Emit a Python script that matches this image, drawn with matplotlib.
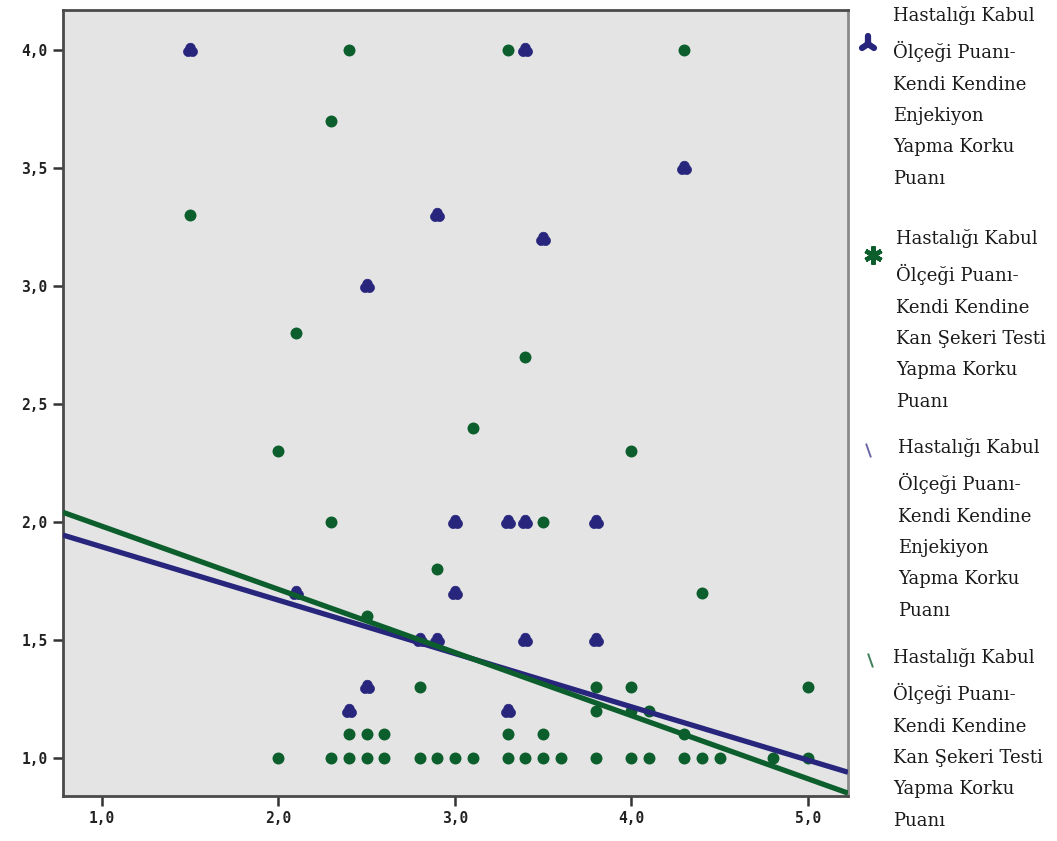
import numpy as np
import matplotlib
matplotlib.use("Agg")
import matplotlib.pyplot as plt
from matplotlib.path import Path
from matplotlib.markers import MarkerStyle
from matplotlib.lines import Line2D
from matplotlib.ticker import FuncFormatter

# Hastalığı Kabul Ölçeği Puanı (x) vs. fear scores (y)
enj_x = [1.5, 3.4, 4.3, 2.9, 3.5, 2.5, 3.0, 3.3, 3.4, 3.8, 3.0, 2.1,
         2.8, 2.9, 3.4, 3.8, 2.5, 2.4, 3.3]
enj_y = [4.0, 4.0, 3.5, 3.3, 3.2, 3.0, 2.0, 2.0, 2.0, 2.0, 1.7, 1.7,
         1.5, 1.5, 1.5, 1.5, 1.3, 1.2, 1.2]

kan_x = [2.4, 3.3, 4.3, 2.3, 1.5, 2.1, 3.4, 3.1, 2.0, 4.0, 2.3, 3.5,
         2.9, 4.4, 2.5, 2.8, 3.8, 4.0, 5.0, 3.8, 4.0, 4.1,
         2.4, 2.5, 2.6, 3.3, 3.5, 4.3,
         2.0, 2.3, 2.4, 2.5, 2.6, 2.8, 2.9, 3.0, 3.1, 3.3, 3.4, 3.5,
         3.6, 3.8, 4.0, 4.1, 4.3, 4.4, 4.5, 4.8, 5.0]
kan_y = [4.0, 4.0, 4.0, 3.7, 3.3, 2.8, 2.7, 2.4, 2.3, 2.3, 2.0, 2.0,
         1.8, 1.7, 1.6, 1.3, 1.3, 1.3, 1.3, 1.2, 1.2, 1.2,
         1.1, 1.1, 1.1, 1.1, 1.1, 1.1,
         1.0, 1.0, 1.0, 1.0, 1.0, 1.0, 1.0, 1.0, 1.0, 1.0, 1.0, 1.0,
         1.0, 1.0, 1.0, 1.0, 1.0, 1.0, 1.0, 1.0, 1.0]

# linear fit lines: intercept, slope
enj_fit = [2.121, -0.226]
kan_fit = [2.250, -0.2676]

x_lim = [0.78, 5.227]
y_lim = [0.839, 4.17]
x_ticks = [1.0, 2.0, 3.0, 4.0, 5.0]
y_ticks = [1.0, 1.5, 2.0, 2.5, 3.0, 3.5, 4.0]

label_enj = "Hastalığı Kabul\nÖlçeği Puanı-\nKendi Kendine\nEnjekiyon\nYapma Korku\nPuanı"
label_kan = "Hastalığı Kabul\nÖlçeği Puanı-\nKendi Kendine\nKan Şekeri Testi\nYapma Korku\nPuanı"

blue = "#27257c"
green = "#0c5e2c"


def trefoil(d=0.32, rad=0.6):
    # outline of three overlapping discs, one lobe pointing up
    t = np.linspace(0, 2 * np.pi, 181)[:-1]
    u = np.column_stack([np.cos(t), np.sin(t)])
    r = np.zeros(len(t))
    for ang in (90, 210, 330):
        c = d * np.array([np.cos(np.radians(ang)), np.sin(np.radians(ang))])
        uc = u @ c
        r = np.maximum(r, uc + np.sqrt(uc ** 2 - c @ c + rad ** 2))
    verts = u * r[:, None]
    verts = np.vstack([verts, verts[:1]])
    return Path(verts, closed=True)


fig = plt.figure(figsize=(10.57, 8.41), dpi=100)
ax = fig.add_axes([63 / 1057, 1 - 796 / 841, (848 - 63) / 1057, (796 - 10) / 841])
ax.set_facecolor("#e4e4e4")

ax.plot(enj_x, enj_y, linestyle="none", marker=trefoil(), markersize=10.5,
        color=blue, markeredgewidth=0.5, zorder=3)
ax.plot(kan_x, kan_y, linestyle="none", marker="o", markersize=8.6,
        color=green, markeredgewidth=0, zorder=4)

xs = np.array(x_lim)
ax.plot(xs, enj_fit[0] + enj_fit[1] * xs, color=blue, lw=3.8, zorder=5,
        solid_capstyle="butt")
ax.plot(xs, kan_fit[0] + kan_fit[1] * xs, color=green, lw=3.8, zorder=6,
        solid_capstyle="butt")

ax.set_xlim(x_lim)
ax.set_ylim(y_lim)
ax.set_xticks(x_ticks)
ax.set_yticks(y_ticks)
fmt = FuncFormatter(lambda v, p: ("%.1f" % v).replace(".", ","))
ax.xaxis.set_major_formatter(fmt)
ax.yaxis.set_major_formatter(fmt)
ax.tick_params(axis="both", direction="out", length=7, width=1.8,
               color="#333333", labelsize=10.5, pad=4)
for lab in ax.get_xticklabels() + ax.get_yticklabels():
    lab.set_family("DejaVu Sans Mono")
    lab.set_fontweight("bold")
    lab.set_color("#222222")
for side in ("left", "bottom", "top"):
    ax.spines[side].set_color("#4a4a4a")
    ax.spines[side].set_linewidth(2)
ax.spines["right"].set_color("#8a8a8a")
ax.spines["right"].set_linewidth(2)

# legend drawn by hand, SPSS style
def px(x, y):
    return x / 1057, 1 - y / 841

entries = [
    (label_enj, (893, 6), (868, 44),
     dict(marker=MarkerStyle("2", capstyle="round"), markersize=11.5,
          markeredgewidth=4.5, color=blue)),
    (label_kan, (896, 229), (873, 255),
     dict(marker=MarkerStyle((6, 2, 0), capstyle="round"), markersize=13,
          markeredgewidth=3.2, color=green)),
    (label_enj, (898, 438), (868, 450),
     dict(marker=Path([(-0.35, 1), (0.35, -1)]), markersize=10,
          markeredgewidth=1.4, color="#6a67a8")),
    (label_kan, (893, 648), (870, 660),
     dict(marker=Path([(-0.35, 1), (0.35, -1)]), markersize=10,
          markeredgewidth=1.4, color="#3f8059")),
]
for text, tpos, mpos, style in entries:
    fig.text(*px(*tpos), text, family="DejaVu Serif", fontsize=13,
             ha="left", va="top", linespacing=1.95, color="#1a1a1a")
    mx, my = px(*mpos)
    fig.add_artist(Line2D([mx], [my], linestyle="none", **style))

fig.savefig("out.png", dpi=100, facecolor="white")
